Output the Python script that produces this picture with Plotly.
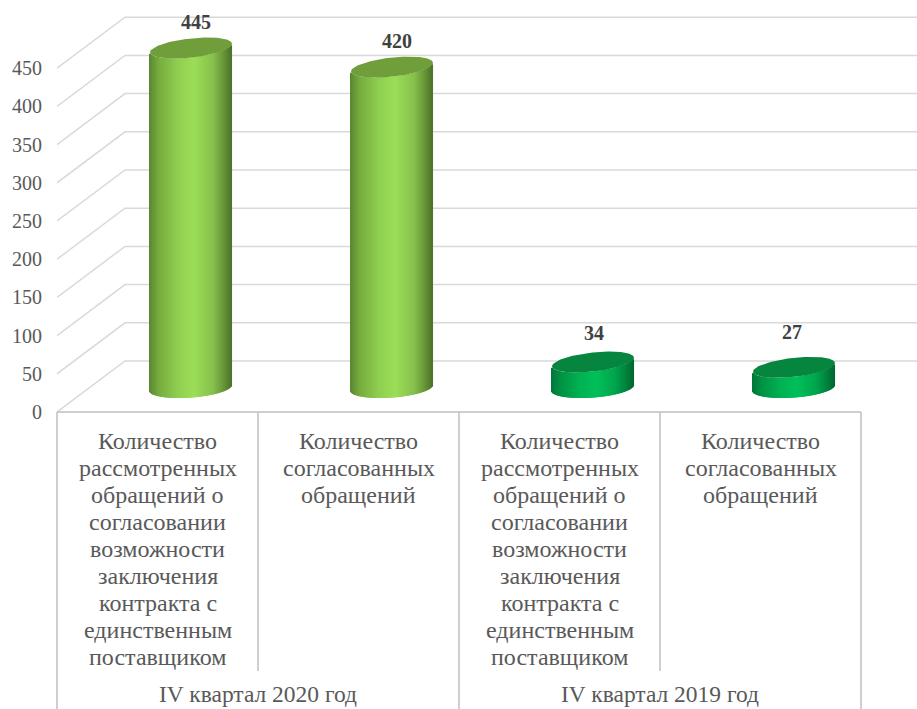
import numpy as np
import plotly.graph_objects as go

# ---------- data ----------
long_label = ["Количество", "рассмотренных", "обращений о", "согласовании", "возможности",
              "заключения", "контракта с", "единственным", "поставщиком"]
short_label = ["Количество", "согласованных", "обращений"]
categories = [long_label, short_label, long_label, short_label]
groups = ["IV квартал 2020 год", "IV квартал 2019 год"]
values = [445, 420, 34, 27]
y_ticks = [0, 50, 100, 150, 200, 250, 300, 350, 400, 450]

# ---------- style ----------
W, H = 917, 709
L, BOTTOM = 57, 412            # pixel of the front-left origin
CAT_W = 201.0                  # px per category
PX_PER_UNIT = 0.764            # px per value unit
DEPTH_X, DEPTH_Y = 68, 51      # px, front plane to back wall
BAR_DX, BAR_DY = 33.5, 24      # px, bar axis relative to the front plane
BAR_HALF = 41.0
CAP_H = 9.6
SHEAR_BASE, SHEAR_TOP = 0.07, 0.105
LABEL_LIFT = [24, 24, 27, 33]  # px above the centre of the cap
LABEL_SHIFT = [5, 5, 1, -2]    # px right of the bar axis
FONT = "Liberation Serif"
TXT = "#595959"
GRID = "#D9D9D9"
FRAME = "#BFBFBF"
CAT_FONT = 24
GROUP_FONT = 23.5
LINE_PX = 27.0
FIRST_LINE_PX = 441

RAMPS = {
    "light": dict(pos=[0, .12, .35, .55, .78, .92, 1],
                  col=[(88, 134, 48), (118, 172, 62), (143, 206, 80), (155, 222, 86),
                       (134, 192, 76), (100, 146, 54), (78, 114, 42)],
                  cap="#6F9E3A"),
    "dark": dict(pos=[0, .12, .35, .55, .78, .92, 1],
                 col=[(0, 118, 56), (0, 146, 68), (0, 178, 82), (0, 192, 88),
                      (0, 165, 76), (0, 128, 60), (0, 104, 48)],
                 cap="#05853D"),
}
series_ramp = ["light", "light", "dark", "dark"]

x_of = lambda px: (px - L) / CAT_W - 0.5      # pixel -> axis value
dx_u = lambda px: px / CAT_W
dy_u = lambda px: px / PX_PER_UNIT
paper_below = lambda px: -(px - BOTTOM) / BOTTOM   # pixel below the axis -> paper y


def ramp(name, t):
    r = RAMPS[name]
    ch = [np.interp(t, r["pos"], [c[i] for c in r["col"]]) for i in range(3)]
    return "rgb(%d,%d,%d)" % tuple(int(round(c)) for c in ch)


fig = go.Figure()

# perspective grid: front edge, diagonal to the back wall, then along the wall
x_grid = [-0.5, -0.5 + dx_u(DEPTH_X), x_of(W + 5)]
for tick in y_ticks:
    back = tick + dy_u(DEPTH_Y)
    fig.add_shape(type="path", xref="x", yref="y", layer="below",
                  path=f"M{x_grid[0]},{tick} L{x_grid[1]},{back} L{x_grid[2]},{back}",
                  line=dict(color=GRID, width=1.5))

# cylinders: one column of px-wide bars per cylinder, shaded across its width
floor = dy_u(BAR_DY)
for i, value in enumerate(values):
    center = i + dx_u(BAR_DX)
    offs = np.arange(-BAR_HALF + 0.5, BAR_HALF, 1.0)
    arc = CAP_H * np.sqrt(np.clip(1 - (offs / BAR_HALF) ** 2, 0, 1))
    base = floor + dy_u(SHEAR_BASE * offs - arc)
    top = floor + value + dy_u(SHEAR_TOP * offs - arc)
    t = (offs + BAR_HALF) / (2 * BAR_HALF)
    fig.add_trace(go.Bar(
        x=center + offs / CAT_W, y=top - base, base=base, width=1.1 / CAT_W,
        marker=dict(color=[ramp(series_ramp[i], v) for v in t], line=dict(width=0)),
        showlegend=False, hoverinfo="skip"))
    # top cap
    th = np.linspace(0, 2 * np.pi, 121)
    co = BAR_HALF * np.cos(th)
    fig.add_trace(go.Scatter(
        x=center + co / CAT_W,
        y=floor + value + dy_u(SHEAR_TOP * co + CAP_H * np.sin(th)),
        mode="lines", fill="toself", fillcolor=RAMPS[series_ramp[i]]["cap"],
        line=dict(width=0), showlegend=False, hoverinfo="skip"))

# data labels
fig.add_trace(go.Scatter(
    x=[i + dx_u(BAR_DX) + dx_u(off) for i, off in enumerate(LABEL_SHIFT)],
    y=[v + floor + dy_u(l) for v, l in zip(values, LABEL_LIFT)],
    mode="text", text=[str(v) for v in values], textposition="middle center",
    textfont=dict(family=FONT, size=20, color="#404040", weight="bold"),
    showlegend=False, hoverinfo="skip", cliponaxis=False))

# category frame below the axis
frame = [(-0.5, 709), (0.5, 671), (1.5, 709), (2.5, 671), (3.5, 709)]
for xv, y_end in frame:
    xp = (xv + .5) * CAT_W / (W - L)
    fig.add_shape(type="line", xref="paper", yref="paper", x0=xp, x1=xp,
                  y0=0, y1=paper_below(y_end), line=dict(color=FRAME, width=1.5))
fig.add_shape(type="line", xref="paper", yref="paper",
              x0=0, x1=4 * CAT_W / (W - L), y0=0, y1=0, line=dict(color=FRAME, width=1.5))

# category labels, line by line
for i, lines in enumerate(categories):
    for n, line in enumerate(lines):
        fig.add_annotation(x=i, xref="x", y=paper_below(FIRST_LINE_PX + n * LINE_PX), yref="paper",
                           text=line, showarrow=False, xanchor="center", yanchor="middle",
                           font=dict(family=FONT, size=CAT_FONT, color=TXT))

# group labels
for k, g in enumerate(groups):
    fig.add_annotation(x=2 * k + 0.5, xref="x", y=paper_below(694), yref="paper",
                       text=g, showarrow=False, xanchor="center", yanchor="middle",
                       font=dict(family=FONT, size=GROUP_FONT, color=TXT))

fig.update_layout(
    width=W, height=H, autosize=False,
    margin=dict(l=L, r=0, t=0, b=H - BOTTOM, autoexpand=False),
    paper_bgcolor="white", plot_bgcolor="white",
    barmode="overlay", showlegend=False,
    xaxis=dict(range=[-0.5, x_of(W)], showticklabels=False,
               showgrid=False, zeroline=False, showline=False, ticks=""),
    yaxis=dict(range=[0, BOTTOM / PX_PER_UNIT], tickmode="array", tickvals=y_ticks,
               showgrid=False, zeroline=False, showline=False, ticks="", ticklabelstandoff=14,
               tickfont=dict(family=FONT, size=20, color=TXT)),
)

fig.write_html("out.html", config=dict(displayModeBar=False),
               post_script="document.body.style.margin='0';document.body.style.overflow='hidden';")
